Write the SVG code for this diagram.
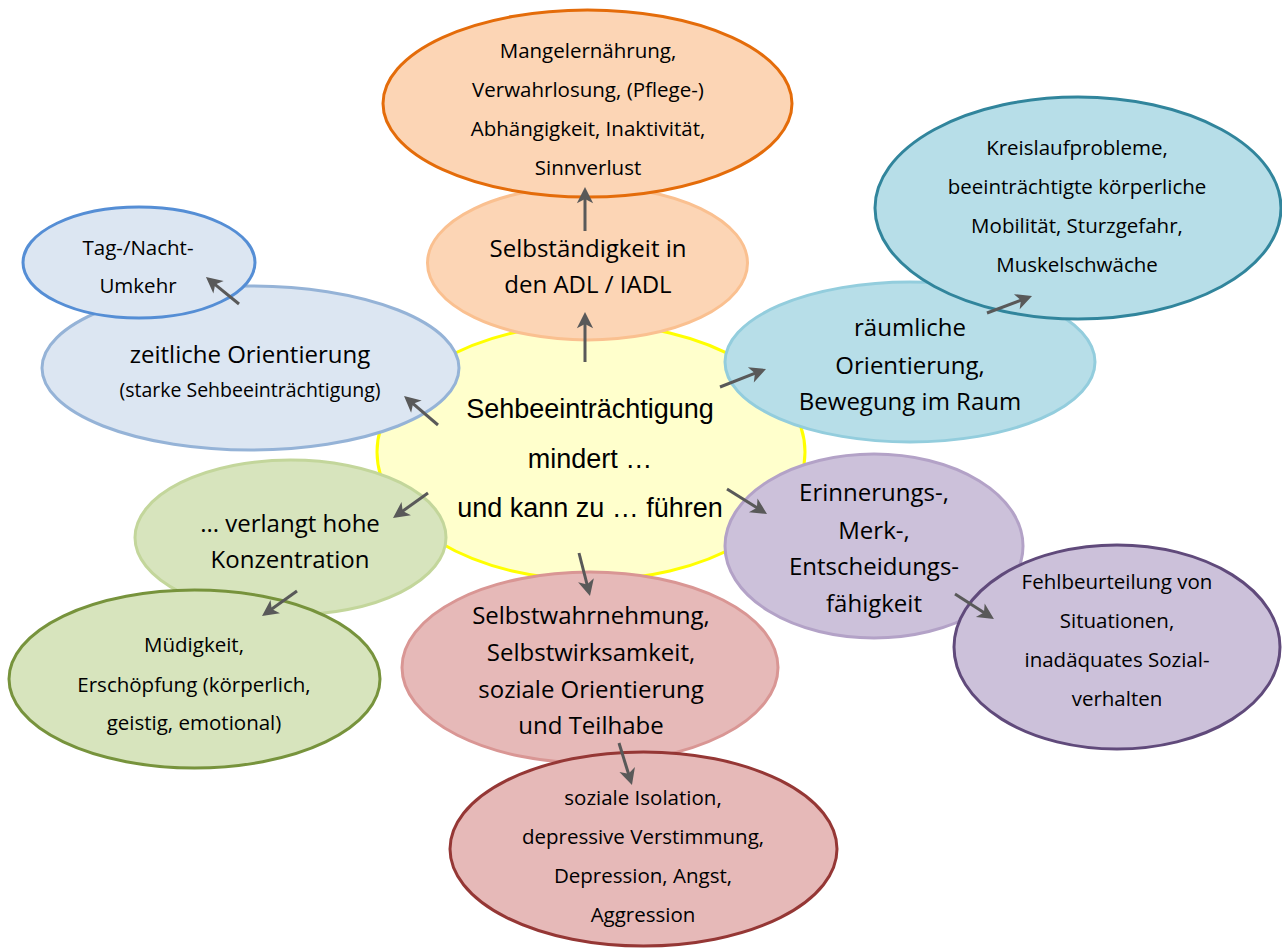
<svg xmlns="http://www.w3.org/2000/svg" width="1282" height="949" viewBox="0 0 1282 949">
<defs>
<style>
.t{font-family:"Open Sans","Liberation Sans",sans-serif;fill:#000;text-anchor:middle}
.m{font-size:24px}
.s{font-size:20.5px}
.c{font-family:"Liberation Sans",Arial,sans-serif;font-size:27px;fill:#000;text-anchor:middle}
ellipse{stroke-width:3}
.con line{stroke:#595959;stroke-width:3;fill:none;marker-end:url(#ah)}
</style>
<marker id="ah" viewBox="0 0 16 16" refX="9.2" refY="8" markerWidth="20" markerHeight="20" markerUnits="userSpaceOnUse" orient="auto">
<path d="M14,8 L1,1.5 L4.5,8 L1,14.5 Z" fill="#595959"/>
</marker>
</defs>
<rect width="1282" height="949" fill="#fff"/>

<g id="center">
<ellipse cx="591" cy="452" rx="214" ry="128" fill="#FFFFCC" stroke="#FFFF00"/>
<text class="c" x="590" y="418">Sehbeeinträchtigung</text>
<text class="c" x="590" y="468">mindert …</text>
<text class="c" x="590" y="517">und kann zu … führen</text>
</g>

<g id="selbstaendigkeit">
<ellipse cx="587.5" cy="263" rx="160" ry="77" fill="#FCD5B5" stroke="#FAC090"/>
<text class="t m" x="588" y="257">Selbständigkeit in</text>
<text class="t m" x="588" y="293">den ADL / IADL</text>
</g>
<g id="mangel">
<ellipse cx="587.5" cy="103.5" rx="204.5" ry="93.5" fill="#FCD5B5" stroke="#E46C0A"/>
<text class="t s" x="588" y="58">Mangelernährung,</text>
<text class="t s" x="588" y="97">Verwahrlosung, (Pflege-)</text>
<text class="t s" x="588" y="136">Abhängigkeit, Inaktivität,</text>
<text class="t s" x="588" y="175">Sinnverlust</text>
</g>

<g id="zeitlich">
<ellipse cx="250.5" cy="368" rx="208.5" ry="82" fill="#DCE6F2" stroke="#95B3D7"/>
<text class="t m" x="250" y="363">zeitliche Orientierung</text>
<text class="t" x="250" y="397" style="font-size:19.5px">(starke Sehbeeinträchtigung)</text>
</g>
<g id="tagnacht">
<ellipse cx="139" cy="262.5" rx="116" ry="55.5" fill="#DCE6F2" stroke="#558ED5"/>
<text class="t s" x="138" y="255">Tag-/Nacht-</text>
<text class="t s" x="138" y="293">Umkehr</text>
</g>

<g id="raeumlich">
<ellipse cx="910" cy="362" rx="185" ry="80" fill="#B7DEE8" stroke="#93CDDD"/>
<text class="t m" x="910" y="336">räumliche</text>
<text class="t m" x="910" y="374">Orientierung,</text>
<text class="t m" x="910" y="410">Bewegung im Raum</text>
</g>
<g id="kreislauf">
<ellipse cx="1078" cy="208" rx="203" ry="111" fill="#B7DEE8" stroke="#31859C"/>
<text class="t s" x="1077" y="155">Kreislaufprobleme,</text>
<text class="t s" x="1077" y="194">beeinträchtigte körperliche</text>
<text class="t s" x="1077" y="233">Mobilität, Sturzgefahr,</text>
<text class="t s" x="1077" y="272">Muskelschwäche</text>
</g>

<g id="erinnerung">
<ellipse cx="874" cy="546" rx="149" ry="92" fill="#CCC1DA" stroke="#B3A2C7"/>
<text class="t m" x="874" y="501">Erinnerungs-,</text>
<text class="t m" x="874" y="539">Merk-,</text>
<text class="t m" x="874" y="575">Entscheidungs-</text>
<text class="t m" x="874" y="612">fähigkeit</text>
</g>
<g id="fehlbeurteilung">
<ellipse cx="1117" cy="647" rx="163" ry="102" fill="#CCC1DA" stroke="#604A7B"/>
<text class="t s" x="1117" y="589">Fehlbeurteilung von</text>
<text class="t s" x="1117" y="628">Situationen,</text>
<text class="t s" x="1117" y="667">inadäquates Sozial-</text>
<text class="t s" x="1117" y="706">verhalten</text>
</g>

<g id="konzentration">
<ellipse cx="290.5" cy="537.5" rx="155.5" ry="77.5" fill="#D7E4BD" stroke="#C3D69B"/>
<text class="t m" x="290" y="532">... verlangt hohe</text>
<text class="t m" x="290" y="568">Konzentration</text>
</g>
<g id="muedigkeit">
<ellipse cx="194.5" cy="679" rx="185.5" ry="89" fill="#D7E4BD" stroke="#77933C"/>
<text class="t s" x="194" y="652">Müdigkeit,</text>
<text class="t s" x="194" y="692">Erschöpfung (körperlich,</text>
<text class="t s" x="194" y="730">geistig, emotional)</text>
</g>

<g id="selbstwahrnehmung">
<ellipse cx="590" cy="667.5" rx="188" ry="95.5" fill="#E6B9B8" stroke="#D99694"/>
<text class="t m" x="591" y="624">Selbstwahrnehmung,</text>
<text class="t m" x="591" y="661">Selbstwirksamkeit,</text>
<text class="t m" x="591" y="698">soziale Orientierung</text>
<text class="t m" x="591" y="734">und Teilhabe</text>
</g>
<g id="isolation">
<ellipse cx="643.5" cy="849" rx="193.5" ry="97" fill="#E6B9B8" stroke="#953735"/>
<text class="t s" x="643" y="805">soziale Isolation,</text>
<text class="t s" x="643" y="844">depressive Verstimmung,</text>
<text class="t s" x="643" y="883">Depression, Angst,</text>
<text class="t s" x="643" y="922">Aggression</text>
</g>

<g id="connectors" class="con">
<line x1="585" y1="362" x2="585" y2="318"/>
<line x1="585" y1="231" x2="585" y2="193"/>
<line x1="438" y1="425" x2="408.6" y2="399.9"/>
<line x1="239" y1="304" x2="210.6" y2="280.8"/>
<line x1="720" y1="387" x2="760.4" y2="371.2"/>
<line x1="987" y1="313" x2="1026.4" y2="298.1"/>
<line x1="727" y1="489" x2="761.9" y2="510.8"/>
<line x1="955" y1="594" x2="988.9" y2="615.8"/>
<line x1="428" y1="493" x2="397.9" y2="514.5"/>
<line x1="297" y1="591" x2="266.9" y2="612.5"/>
<line x1="579" y1="553" x2="588.5" y2="590.2"/>
<line x1="619" y1="743" x2="630.2" y2="779.3"/>
</g>
</svg>
